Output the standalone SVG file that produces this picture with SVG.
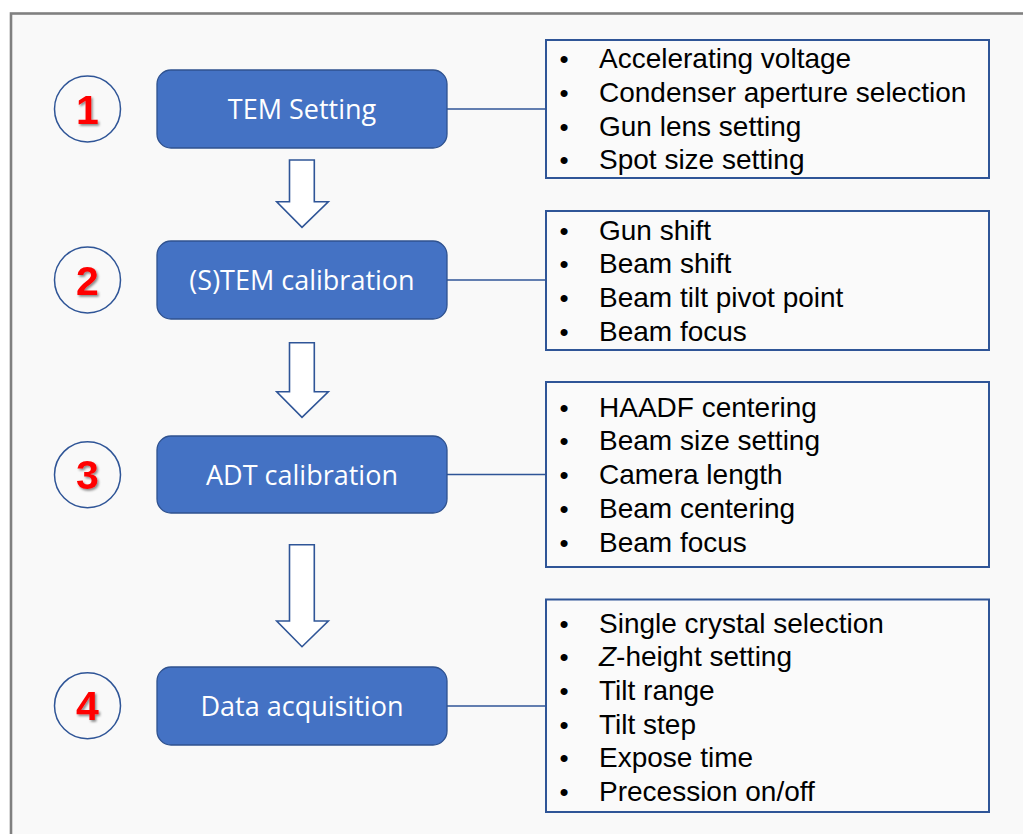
<svg xmlns="http://www.w3.org/2000/svg" width="1023" height="834" viewBox="0 0 1023 834">
  <defs>
    <filter id="numShadow" x="-30%" y="-30%" width="160%" height="160%">
      <feDropShadow dx="1.5" dy="1.8" stdDeviation="0.9" flood-color="#000" flood-opacity="0.45"/>
    </filter>
    <style>
      .step { fill: #4472c4; stroke: #2f528f; stroke-width: 1.3; }
      .stepLabel { fill: #ffffff; font-family: "Open Sans", "Noto Sans", sans-serif; font-size: 27px; text-anchor: middle; }
      .badge { fill: none; stroke: #2f5597; stroke-width: 1.5; }
      .badgeNum { fill: #ff0000; font-family: "Liberation Sans", Arial, sans-serif; font-weight: bold; font-size: 41px; text-anchor: middle; filter: url(#numShadow); }
      .list { fill: #fafafa; stroke: #2f5597; stroke-width: 2; }
      .item { fill: #000000; font-family: "Liberation Sans", Arial, sans-serif; font-size: 28px; }
      .bullet { fill: #000000; font-family: "Liberation Sans", Arial, sans-serif; font-size: 26px; text-anchor: middle; }
      .link { stroke: #2f5597; stroke-width: 1.3; fill: none; }
      .flow { fill: #ffffff; stroke: #2f5597; stroke-width: 1.6; stroke-linejoin: miter; }
    </style>
  </defs>

  <!-- page background and frame -->
  <rect x="0" y="0" width="1023" height="834" fill="#ffffff"/>
  <rect x="11" y="13.5" width="1100" height="900" fill="#f9f9f9" stroke="#808080" stroke-width="2.6"/>

  <!-- connectors: step-to-list lines and down arrows -->
  <g id="connectors">
    <line class="link" x1="447" y1="109" x2="546" y2="109"/>
    <line class="link" x1="447" y1="280" x2="546" y2="280"/>
    <line class="link" x1="447" y1="474.5" x2="546" y2="474.5"/>
    <line class="link" x1="447" y1="706" x2="546" y2="706"/>
    <path class="flow" d="M289.5,160 H314.3 V201.7 H328.3 L302,227.3 L276.7,201.7 H289.5 Z"/>
    <path class="flow" d="M289.5,342.7 H314.3 V391.7 H328.3 L302,417.3 L276.7,391.7 H289.5 Z"/>
    <path class="flow" d="M289.5,544.7 H314.3 V621 H328.3 L302,646.7 L276.7,621 H289.5 Z"/>
  </g>

  <!-- step 1 -->
  <g id="badge1">
    <circle class="badge" cx="87.5" cy="109" r="33"/>
    <text class="badgeNum" x="87.5" y="123.5">1</text>
  </g>
  <g id="step1">
    <rect class="step" x="157" y="70" width="290" height="78" rx="14"/>
    <text class="stepLabel" x="302" y="119">TEM Setting</text>
  </g>
  <g id="list1">
    <rect class="list" x="546" y="40" width="443" height="138"/>
    <text class="bullet" x="564" y="68.3">•</text><text class="item" x="599" y="68.3">Accelerating voltage</text>
    <text class="bullet" x="564" y="102">•</text><text class="item" x="599" y="102">Condenser aperture selection</text>
    <text class="bullet" x="564" y="135.7">•</text><text class="item" x="599" y="135.7">Gun lens setting</text>
    <text class="bullet" x="564" y="169.3">•</text><text class="item" x="599" y="169.3">Spot size setting</text>
  </g>

  <!-- step 2 -->
  <g id="badge2">
    <circle class="badge" cx="87.5" cy="280" r="33"/>
    <text class="badgeNum" x="87.5" y="294.5">2</text>
  </g>
  <g id="step2">
    <rect class="step" x="157" y="241" width="290" height="78" rx="14"/>
    <text class="stepLabel" x="302" y="290">(S)TEM calibration</text>
  </g>
  <g id="list2">
    <rect class="list" x="546" y="211" width="443" height="139"/>
    <text class="bullet" x="564" y="239.5">•</text><text class="item" x="599" y="239.5">Gun shift</text>
    <text class="bullet" x="564" y="273.2">•</text><text class="item" x="599" y="273.2">Beam shift</text>
    <text class="bullet" x="564" y="306.9">•</text><text class="item" x="599" y="306.9">Beam tilt pivot point</text>
    <text class="bullet" x="564" y="340.6">•</text><text class="item" x="599" y="340.6">Beam focus</text>
  </g>

  <!-- step 3 -->
  <g id="badge3">
    <circle class="badge" cx="87.5" cy="474.7" r="33"/>
    <text class="badgeNum" x="87.5" y="489">3</text>
  </g>
  <g id="step3">
    <rect class="step" x="157" y="436" width="290" height="77" rx="14"/>
    <text class="stepLabel" x="302" y="484.5">ADT calibration</text>
  </g>
  <g id="list3">
    <rect class="list" x="546" y="382" width="443" height="185"/>
    <text class="bullet" x="564" y="416.7">•</text><text class="item" x="599" y="416.7">HAADF centering</text>
    <text class="bullet" x="564" y="450.4">•</text><text class="item" x="599" y="450.4">Beam size setting</text>
    <text class="bullet" x="564" y="484.1">•</text><text class="item" x="599" y="484.1">Camera length</text>
    <text class="bullet" x="564" y="517.8">•</text><text class="item" x="599" y="517.8">Beam centering</text>
    <text class="bullet" x="564" y="551.5">•</text><text class="item" x="599" y="551.5">Beam focus</text>
  </g>

  <!-- step 4 -->
  <g id="badge4">
    <circle class="badge" cx="87.5" cy="705.7" r="33"/>
    <text class="badgeNum" x="87.5" y="720">4</text>
  </g>
  <g id="step4">
    <rect class="step" x="157" y="667" width="290" height="78" rx="14"/>
    <text class="stepLabel" x="302" y="716">Data acquisition</text>
  </g>
  <g id="list4">
    <rect class="list" x="546" y="599.5" width="443" height="212.5"/>
    <text class="bullet" x="564" y="632.7">•</text><text class="item" x="599" y="632.7">Single crystal selection</text>
    <text class="bullet" x="564" y="666.3">•</text><text class="item" x="599" y="666.3"><tspan font-style="italic">Z</tspan>-height setting</text>
    <text class="bullet" x="564" y="699.9">•</text><text class="item" x="599" y="699.9">Tilt range</text>
    <text class="bullet" x="564" y="733.5">•</text><text class="item" x="599" y="733.5">Tilt step</text>
    <text class="bullet" x="564" y="767.1">•</text><text class="item" x="599" y="767.1">Expose time</text>
    <text class="bullet" x="564" y="800.7">•</text><text class="item" x="599" y="800.7">Precession on/off</text>
  </g>
</svg>
